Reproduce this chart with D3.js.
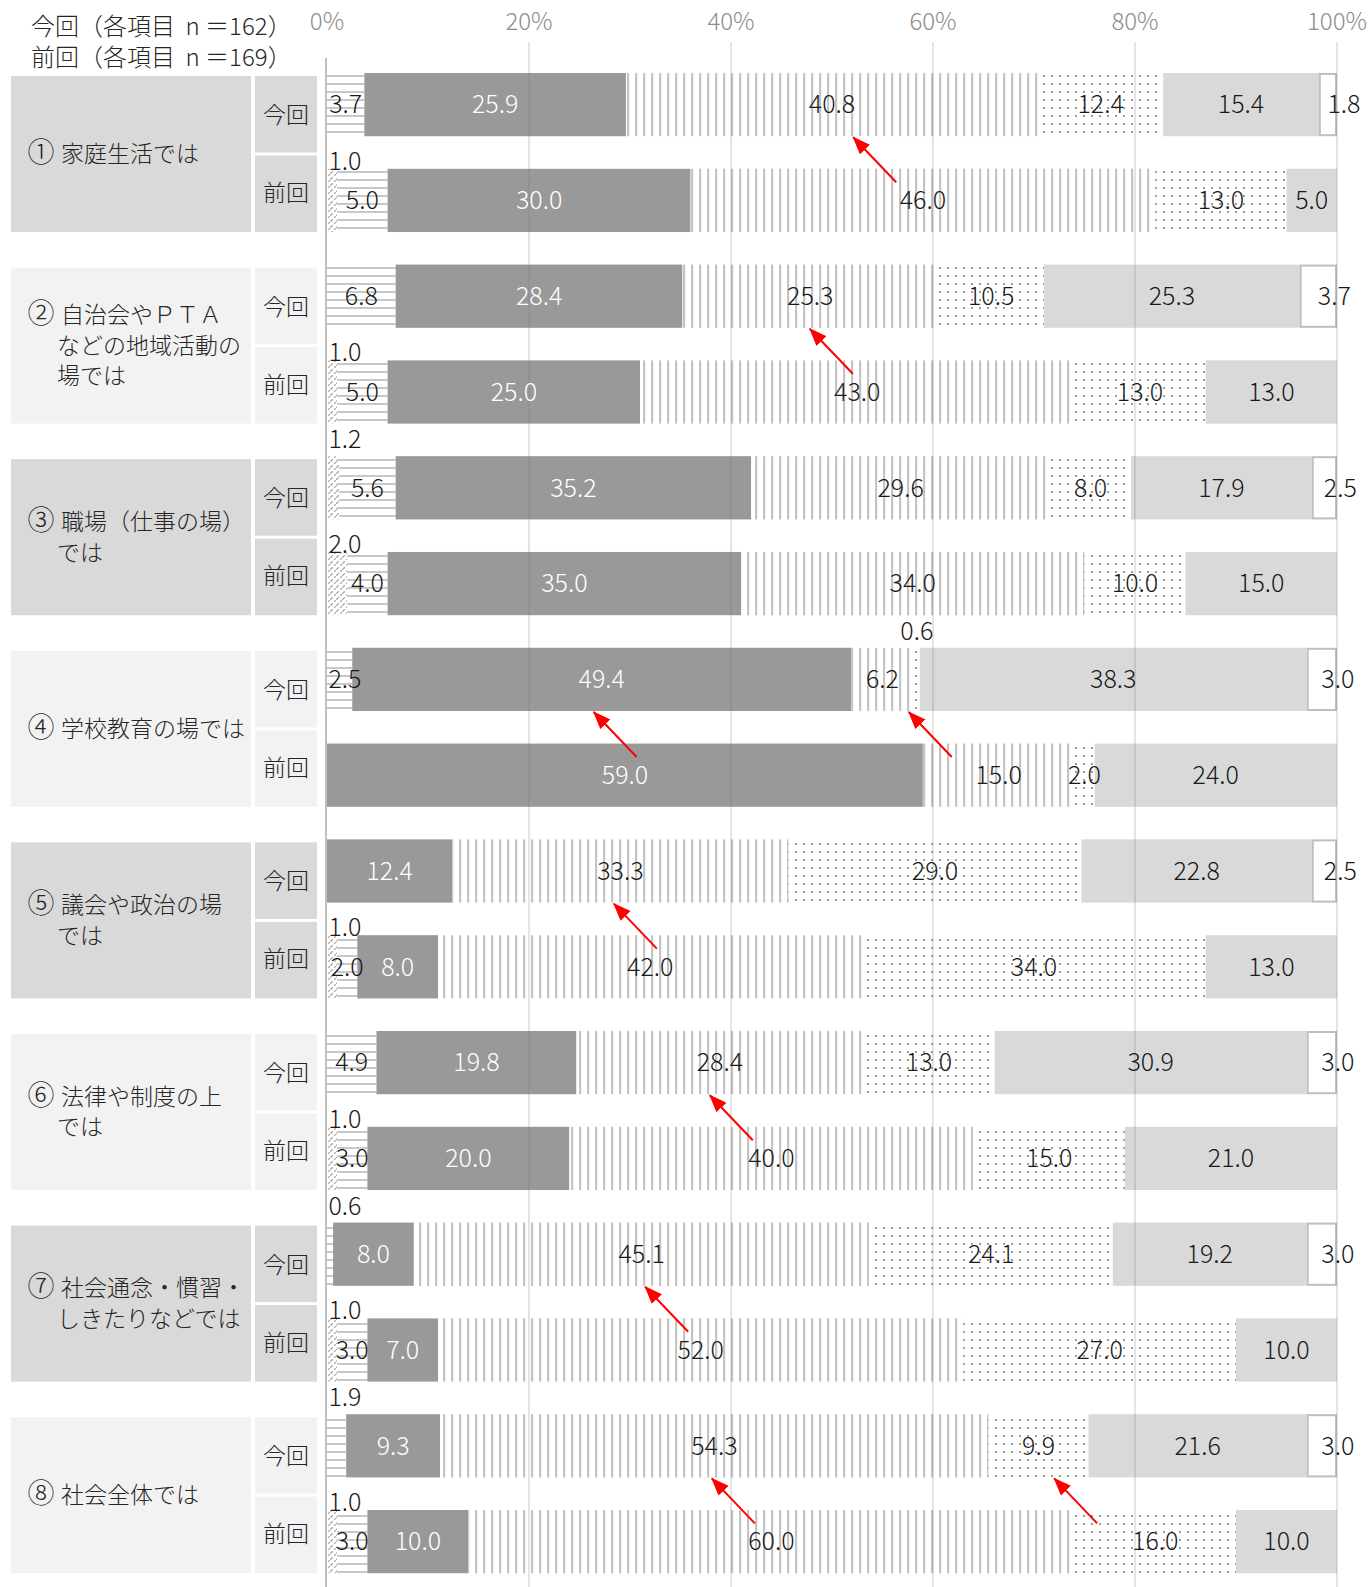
<!DOCTYPE html>
<html>
<head>
<meta charset="utf-8">
<script src="https://cdn.jsdelivr.net/npm/d3@7"></script>
<style>
  body { margin: 0; background: #fff; }
  svg { display: block; }
  text { font-family: "Noto Sans CJK JP", "Noto Sans", sans-serif; }
</style>
</head>
<body>
<svg id="chart" width="1372" height="1587"></svg>
<script>
// Survey items (line breaks as drawn in the row headers)
const categories = [
  "①家庭生活では",
  "②自治会やＰＴＡ\nなどの地域活動の\n場では",
  "③職場（仕事の場）\nでは",
  "④学校教育の場では",
  "⑤議会や政治の場\nでは",
  "⑥法律や制度の上\nでは",
  "⑦社会通念・慣習・\nしきたりなどでは",
  "⑧社会全体では"
];
const seriesNames = ["今回", "前回"];
const headerLines = ["今回（各項目\u00a0\u00a0n\u00a0＝162）", "前回（各項目\u00a0\u00a0n\u00a0＝169）"];
const tickValues = [0, 20, 40, 60, 80, 100];

// Response shares (%) per item, seven answer groups from left to right
const currentValues = [
  [0,   3.7, 25.9, 40.8, 12.4, 15.4, 1.8],
  [0,   6.8, 28.4, 25.3, 10.5, 25.3, 3.7],
  [1.2, 5.6, 35.2, 29.6,  8.0, 17.9, 2.5],
  [0,   2.5, 49.4,  6.2,  0.6, 38.3, 3.0],
  [0,   0,   12.4, 33.3, 29.0, 22.8, 2.5],
  [0,   4.9, 19.8, 28.4, 13.0, 30.9, 3.0],
  [0,   0.6,  8.0, 45.1, 24.1, 19.2, 3.0],
  [0,   1.9,  9.3, 54.3,  9.9, 21.6, 3.0]
];
const previousValues = [
  [1.0, 5.0, 30.0, 46.0, 13.0,  5.0, 0],
  [1.0, 5.0, 25.0, 43.0, 13.0, 13.0, 0],
  [2.0, 4.0, 35.0, 34.0, 10.0, 15.0, 0],
  [0,   0,   59.0, 15.0,  2.0, 24.0, 0],
  [1.0, 2.0,  8.0, 42.0, 34.0, 13.0, 0],
  [1.0, 3.0, 20.0, 40.0, 15.0, 21.0, 0],
  [1.0, 3.0,  7.0, 52.0, 27.0, 10.0, 0],
  [1.0, 3.0, 10.0, 60.0, 16.0, 10.0, 0]
];

// Change arrows: item index and the share (%) where each arrow points on the current bar
const arrowItems = [0, 1, 3, 3, 4, 5, 6, 7, 7];
const arrowTips  = [52.1, 47.8, 26.4, 57.6, 28.4, 37.9, 31.5, 38.1, 72.0];

const svg = d3.select("#chart");
const defs = svg.append("defs");

// Fill patterns for the hatched answer groups
const diag = defs.append("pattern").attr("id", "diag").attr("patternUnits", "userSpaceOnUse")
  .attr("width", 6).attr("height", 6);
diag.append("rect").attr("width", 6).attr("height", 6).attr("fill", "#fff");
diag.append("path").attr("d", "M0,6 L6,0").attr("stroke", "#aaa").attr("stroke-width", 1.3)
  .attr("stroke-dasharray", "4,2");

const hline = defs.append("pattern").attr("id", "hline").attr("patternUnits", "userSpaceOnUse")
  .attr("width", 8).attr("height", 8);
hline.append("rect").attr("width", 8).attr("height", 8).attr("fill", "#fff");
hline.append("rect").attr("y", 3).attr("width", 8).attr("height", 2).attr("fill", "#c8c8c8");

const vline = defs.append("pattern").attr("id", "vline").attr("patternUnits", "userSpaceOnUse")
  .attr("width", 8).attr("height", 8);
vline.append("rect").attr("width", 8).attr("height", 8).attr("fill", "#fff");
vline.append("rect").attr("x", 3).attr("width", 2.2).attr("height", 8).attr("fill", "#c4c4c4");

const dots = defs.append("pattern").attr("id", "dots").attr("patternUnits", "userSpaceOnUse")
  .attr("width", 8).attr("height", 8);
dots.append("rect").attr("width", 8).attr("height", 8).attr("fill", "#fff");
dots.append("rect").attr("x", 3).attr("y", 3).attr("width", 2).attr("height", 2).attr("fill", "#9a9a9a");

defs.append("marker").attr("id", "arrowHead")
  .attr("markerUnits", "userSpaceOnUse")
  .attr("viewBox", "0 0 18 14").attr("markerWidth", 18).attr("markerHeight", 14)
  .attr("refX", 17).attr("refY", 7).attr("orient", "auto")
  .append("path").attr("d", "M0,0 L18,7 L0,14 Z").attr("fill", "#ff0000");

const segmentFills = ["url(#diag)", "url(#hline)", "#999999", "url(#vline)", "url(#dots)", "#d9d9d9", "#ffffff"];

// Rows: two bars per item
const rows = categories.flatMap((c, g) => [
  { key: g + "-0", g, s: 0, values: currentValues[g] },
  { key: g + "-1", g, s: 1, values: previousValues[g] }
]);

const x = d3.scaleLinear().domain([0, 100]).range([327, 1337]);
const y = d3.scaleBand().domain(rows.map(r => r.key)).range([56.7, 1589.5])
  .paddingInner(0.34).paddingOuter(0.17);
const bw = y.bandwidth();

// Row header boxes
const boxFill = g => (g % 2 === 0 ? "#d9d9d9" : "#f2f2f2");
categories.forEach((label, g) => {
  const top = y(g + "-0") + 3;
  const bottom = y(g + "-1") + bw;
  const mid = (top + bottom) / 2;
  svg.append("rect").attr("x", 11).attr("y", top).attr("width", 240).attr("height", bottom - top)
    .attr("fill", boxFill(g));
  svg.append("rect").attr("x", 255).attr("y", top).attr("width", 62).attr("height", mid - 1.5 - top)
    .attr("fill", boxFill(g));
  svg.append("rect").attr("x", 255).attr("y", mid + 1.5).attr("width", 62).attr("height", bottom - mid - 1.5)
    .attr("fill", boxFill(g));
  seriesNames.forEach((s, i) => {
    const cy = i === 0 ? (top + mid) / 2 : (mid + bottom) / 2;
    svg.append("text").attr("x", 286).attr("y", cy).attr("dy", "0.35em")
      .attr("text-anchor", "middle").attr("font-size", 23).attr("font-weight", 300)
      .attr("fill", "#262626").text(s);
  });
  const lines = label.split("\n");
  const lh = 30.5;
  const y0 = mid - (lines.length - 1) * lh / 2;
  lines.forEach((ln, i) => {
    const t = svg.append("text").attr("y", y0 + i * lh).attr("dy", "0.35em")
      .attr("font-size", 23).attr("font-weight", 300).attr("fill", "#262626");
    if (i === 0) {
      t.append("tspan").attr("x", 41).attr("text-anchor", "middle").attr("font-size", 27).text(ln.slice(0, 1));
      t.append("tspan").attr("x", 61).attr("text-anchor", "start").text(ln.slice(1));
    } else {
      t.attr("x", 57).text(ln);
    }
  });
});

// Header
headerLines.forEach((h, i) => {
  svg.append("text").attr("x", 31).attr("y", 27 + i * 31).attr("dy", "0.35em")
    .attr("font-size", 24).attr("font-weight", 300).attr("fill", "#262626").text(h);
});

// Top axis labels
svg.selectAll("text.tick").data(tickValues).join("text").attr("class", "tick")
  .attr("x", d => x(d)).attr("y", 22).attr("dy", "0.35em").attr("text-anchor", "middle")
  .attr("font-size", 24).attr("font-weight", 300).attr("fill", "#8c8c8c").text(d => d + "%");

// Stacked bars
const fmt = d3.format(".1f");
const segs = rows.flatMap(r => {
  let acc = 0;
  return r.values.map((v, i) => {
    const s = { row: r, i, v, x0: acc, x1: acc + v };
    acc += v;
    return s;
  });
}).filter(s => s.v > 0);

svg.append("g").selectAll("rect").data(segs).join("rect")
  .attr("x", d => x(d.x0) + (d.i === 6 ? 1 : 0))
  .attr("y", d => y(d.row.key) + (d.i === 6 ? 1 : 0))
  .attr("width", d => x(d.x1) - x(d.x0) - (d.i === 6 ? 2 : 0))
  .attr("height", d => bw - (d.i === 6 ? 2 : 0))
  .attr("fill", d => segmentFills[d.i])
  .attr("stroke", d => (d.i === 6 ? "#bfbfbf" : "none"))
  .attr("stroke-width", 2);

// Grid lines and axis line
svg.append("g").selectAll("line").data(tickValues.slice(1)).join("line")
  .attr("x1", d => x(d)).attr("x2", d => x(d)).attr("y1", 42).attr("y2", 1587)
  .attr("stroke", "rgba(120,120,120,0.2)").attr("stroke-width", 2);
svg.append("line").attr("x1", x(0) - 1).attr("x2", x(0) - 1).attr("y1", 58).attr("y2", 1587)
  .attr("stroke", "#bfbfbf").attr("stroke-width", 2);

// Value labels
svg.append("g").selectAll("text").data(segs).join("text")
  .attr("font-size", 25).attr("font-weight", 300)
  .attr("text-anchor", "middle")
  .attr("fill", d => (d.i === 2 ? "#ffffff" : "#1a1a1a"))
  .attr("x", d => {
    const c = x((d.x0 + d.x1) / 2);
    if (d.i === 6) return c + 16;
    return Math.max(c, 345);
  })
  .attr("y", d => {
    const top = y(d.row.key);
    if (d.i !== 6 && (d.i === 0 || d.v < 2)) return d.row.s === 0 ? top - 8 : top + 1;
    return top + bw / 2;
  })
  .attr("dy", d => (d.i !== 6 && (d.i === 0 || d.v < 2)) ? "0" : "0.35em")
  .text(d => fmt(d.v));

// Change arrows from the previous bar to the current bar
svg.append("g").selectAll("line").data(arrowTips.map((t, k) => ({ t, g: arrowItems[k] }))).join("line")
  .attr("x1", d => x(d.t) + 43)
  .attr("y1", d => y(d.g + "-0") + bw + 46)
  .attr("x2", d => x(d.t))
  .attr("y2", d => y(d.g + "-0") + bw + 1)
  .attr("stroke", "#ff0000").attr("stroke-width", 2)
  .attr("marker-end", "url(#arrowHead)");
</script>
</body>
</html>
